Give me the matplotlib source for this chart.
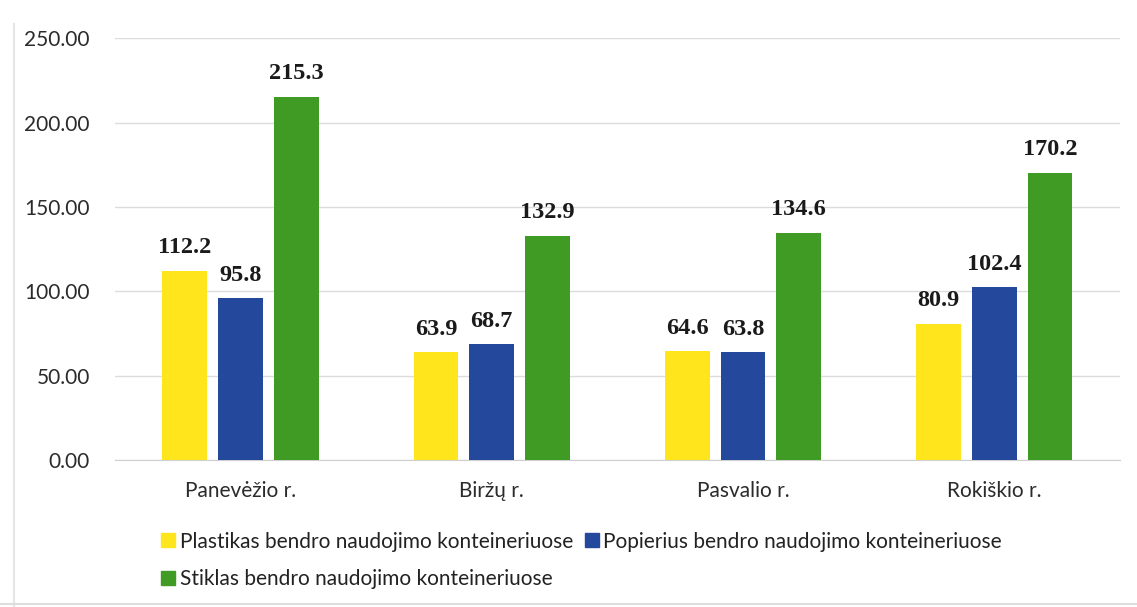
import matplotlib
matplotlib.use('Agg')
import numpy as np
from matplotlib import pyplot as plt
from matplotlib.lines import Line2D

regions = ['Panevėžio r.', 'Biržų r.', 'Pasvalio r.', 'Rokiškio r.']
plastikas = [112.2, 63.9, 64.6, 80.9]
popierius = [95.8, 68.7, 63.8, 102.4]
stiklas = [215.3, 132.9, 134.6, 170.2]
series_names = ['Plastikas bendro naudojimo konteineriuose',
                'Popierius bendro naudojimo konteineriuose',
                'Stiklas bendro naudojimo konteineriuose']
yticks = [0, 50, 100, 150, 200, 250]

colors = ['#FFE51C', '#24489B', '#3F9B24']

plt.rcParams['font.family'] = ['Lato', 'DejaVu Sans']

fig = plt.figure(figsize=(11.37, 6.07), dpi=100)
ax = fig.add_axes([0.101, 0.242, 0.884, 0.695])

x = np.arange(len(regions))
w = 0.178
step = 0.222
for i, (vals, c) in enumerate(zip([plastikas, popierius, stiklas], colors)):
    b = ax.bar(x + (i - 1) * step, vals, width=w, color=c, zorder=3)
    for rect, v in zip(b, vals):
        ax.annotate(f'{v:.1f}', (rect.get_x() + rect.get_width() / 2, v),
                    xytext=(0, 9), textcoords='offset points',
                    ha='center', va='bottom', fontsize=17.5, fontweight='bold',
                    family='Liberation Serif', color='#1a1a1a')

ax.set_xlim(-0.5, 3.5)
ax.set_ylim(0, 250)
ax.set_yticks(yticks)
ax.set_yticklabels([f'{t:.2f}' for t in yticks], fontsize=15, color='#2b2b2b')
ax.set_xticks(x)
ax.set_xticklabels(regions, fontsize=15, color='#2b2b2b')
ax.tick_params(axis='y', length=0, pad=18)
ax.tick_params(axis='x', length=0, pad=15)
ax.grid(axis='y', color='#dcdcdc', linewidth=1, zorder=0)
for s in ['top', 'right', 'left']:
    ax.spines[s].set_visible(False)
ax.spines['bottom'].set_color('#cfcfcf')

# legend: two entries on the first row, the third below
handles = [Line2D([], [], marker='s', linestyle='none', markersize=10,
                  color=c) for c in colors]
order = [0, 2, 1]
fig.legend([handles[i] for i in order], [series_names[i] for i in order],
           ncol=2, loc='upper left', bbox_to_anchor=(0.135, 0.138),
           frameon=False, fontsize=15, handlelength=0.6, handletextpad=0.25,
           columnspacing=0.6, labelspacing=0.85, borderaxespad=0,
           labelcolor='#222222')

# faint page edges
fig.add_artist(Line2D([0.012, 0.012], [0.0, 0.96], color='#e6e6e6', lw=1.5))
fig.add_artist(Line2D([0.0, 1.0], [0.005, 0.005], color='#dddddd', lw=1.5))

fig.savefig('out.png', dpi=100)
